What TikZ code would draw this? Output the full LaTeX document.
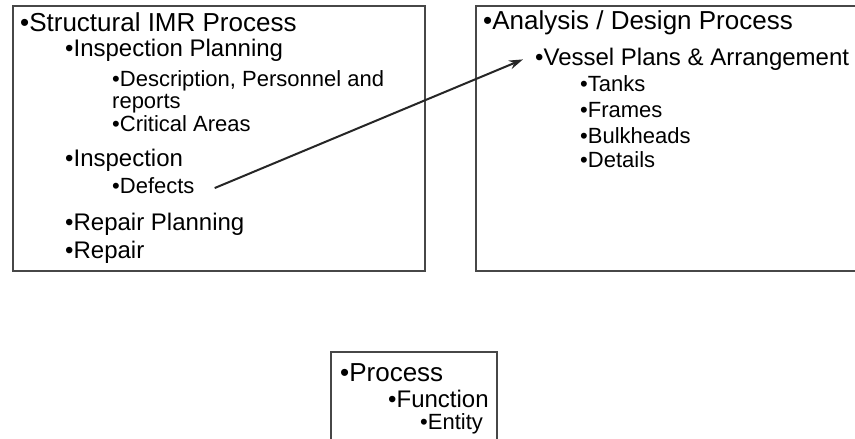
\documentclass[tikz,border=0pt]{standalone}
\usepackage{fontspec}
\setmainfont{Liberation Sans}
\usetikzlibrary{arrows.meta}
\begin{document}
\begin{tikzpicture}[x=1pt,y=-1pt,
  box/.style={draw=black!72, line width=1.8pt},
  lvA/.style={anchor=base west, inner sep=0pt, font=\fontsize{26}{28}\selectfont},
  lvB/.style={anchor=base west, inner sep=0pt, font=\fontsize{24}{26}\selectfont},
  lvC/.style={anchor=base west, inner sep=0pt, font=\fontsize{22}{24}\selectfont},
  link/.style={draw=black!85, line width=2pt, -{Stealth[length=14pt,width=9pt]}}]
\useasboundingbox (0,0) rectangle (855,439);
\fill[white] (0,0) rectangle (855,439);
% containers
\draw[box] (13,6) rectangle (425,271);
\draw[box] (476,6) rectangle (862,271);
\draw[box] (331,352) rectangle (497,450);
% left box
\node[lvA] (imr) at (20,31.3) {•Structural IMR Process};
\node[lvB] (iplan) at (65,56.6) {•Inspection Planning};
\node[lvC] (desc) at (112,86.9) {•Description, Personnel and};
\node[lvC] (reports) at (112,108.9) {reports};
\node[lvC] (crit) at (112,131.9) {•Critical Areas};
\node[lvB] (insp) at (65,166.6) {•Inspection};
\node[lvC] (defects) at (112,193.9) {•Defects};
\node[lvB] (rplan) at (65,230.6) {•Repair Planning};
\node[lvB] (repair) at (65,258.6) {•Repair};
% right box
\node[lvA] (adp) at (483,29.3) {•Analysis / Design Process};
\node[lvB] (vessel) at (535,65.6) {•Vessel Plans \& Arrangement};
\node[lvC] (tanks) at (580,91.9) {•Tanks};
\node[lvC] (frames) at (580,117.9) {•Frames};
\node[lvC] (bulk) at (580,143.9) {•Bulkheads};
\node[lvC] (details) at (580,167.9) {•Details};
% legend box
\node[lvA] (proc) at (340,381.3) {•Process};
\node[lvB] (func) at (388,407.6) {•Function};
\node[lvC] (ent) at (420,429.9) {•Entity};
% connector
\draw[link] ([shift={(20pt,-2pt)}]defects.east) -- ([xshift=-12pt]vessel.west);
\end{tikzpicture}
\end{document}
